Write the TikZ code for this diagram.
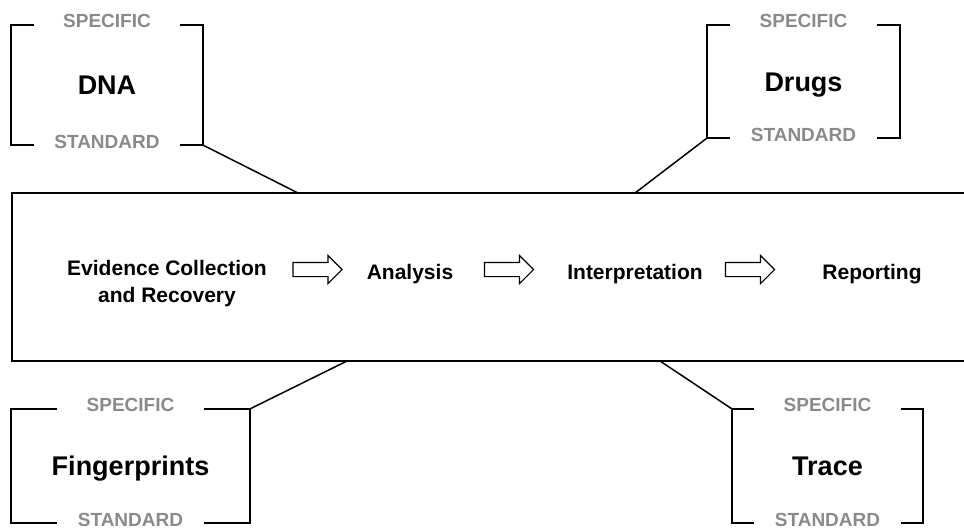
\documentclass[tikz,border=0pt]{standalone}
\usepackage{fontspec}
\setmainfont{Liberation Sans}
\usetikzlibrary{shapes.arrows}
\definecolor{taggray}{HTML}{8A8A8A}

\begin{document}
\begin{tikzpicture}[x=1pt, y=-1pt,
  field/.style={inner sep=0pt, text height=19pt, text depth=0pt,
                font=\fontsize{27}{30}\selectfont\bfseries},
  tag/.style={minimum width=146pt, inner sep=0pt, text=taggray, yshift=3.5pt,
              font=\fontsize{19}{21}\selectfont\bfseries},
  bracket/.style={line width=1.5pt},
  stage/.style={anchor=base, font=\fontsize{21}{27}\selectfont\bfseries},
  flow/.style={single arrow, draw, line width=1.1pt, minimum height=49pt,
               text height=13pt, text depth=0pt, text width=0pt,
               single arrow head extend=7pt, inner sep=0pt}]
\useasboundingbox (0,0) rectangle (964,531);

% ---- process band ----------------------------------------------------
\node[draw, line width=1.5pt, minimum width=980pt, minimum height=168pt,
      anchor=west] (chain) at (11,277) {};

\node[stage, anchor=center, align=center] (ev) at (167,284)
  {Evidence Collection\\and Recovery};
\node[stage] (an) at (410,279) {Analysis};
\node[stage] (int) at (635,279) {Interpretation};
\node[stage] (rep) at (872,279) {Reporting};

\node[flow] (a1) at (314,269.5) {};
\node[flow] (a2) at (505.5,269.5) {};
\node[flow] (a3) at (746.5,269.5) {};

% ---- evidence types --------------------------------------------------
\foreach \nm/\cx/\cy/\w/\h/\txt in {dna/107/85/192/120/DNA,
    drugs/803.5/81.5/193/113/Drugs,
    fp/130.5/466/239/114/Fingerprints,
    trace/827.5/466/191/114/Trace}{
  \node[field, minimum width=\w pt, minimum height=\h pt] (\nm) at (\cx,\cy) {\txt};
  \node[tag] (\nm-sp) at (\nm.north) {SPECIFIC};
  \node[tag] (\nm-st) at (\nm.south) {STANDARD};
  \draw[bracket] (\nm-sp.west |- \nm.north) -- (\nm.north west)
    -- (\nm.south west) -- (\nm-st.west |- \nm.south);
  \draw[bracket] (\nm-sp.east |- \nm.north) -- (\nm.north east)
    -- (\nm.south east) -- (\nm-st.east |- \nm.south);
}

% ---- links to the band -----------------------------------------------
\coordinate (dna-pin) at (298,193);
\coordinate (drugs-pin) at (635,193);
\coordinate (fp-pin) at (347,361);
\coordinate (trace-pin) at (660,361);

\draw[bracket] (dna.south east) -- (dna-pin);
\draw[bracket] (drugs.south west) -- (drugs-pin);
\draw[bracket] (fp.north east) -- (fp-pin);
\draw[bracket] (trace.north west) -- (trace-pin);
\end{tikzpicture}
\end{document}
